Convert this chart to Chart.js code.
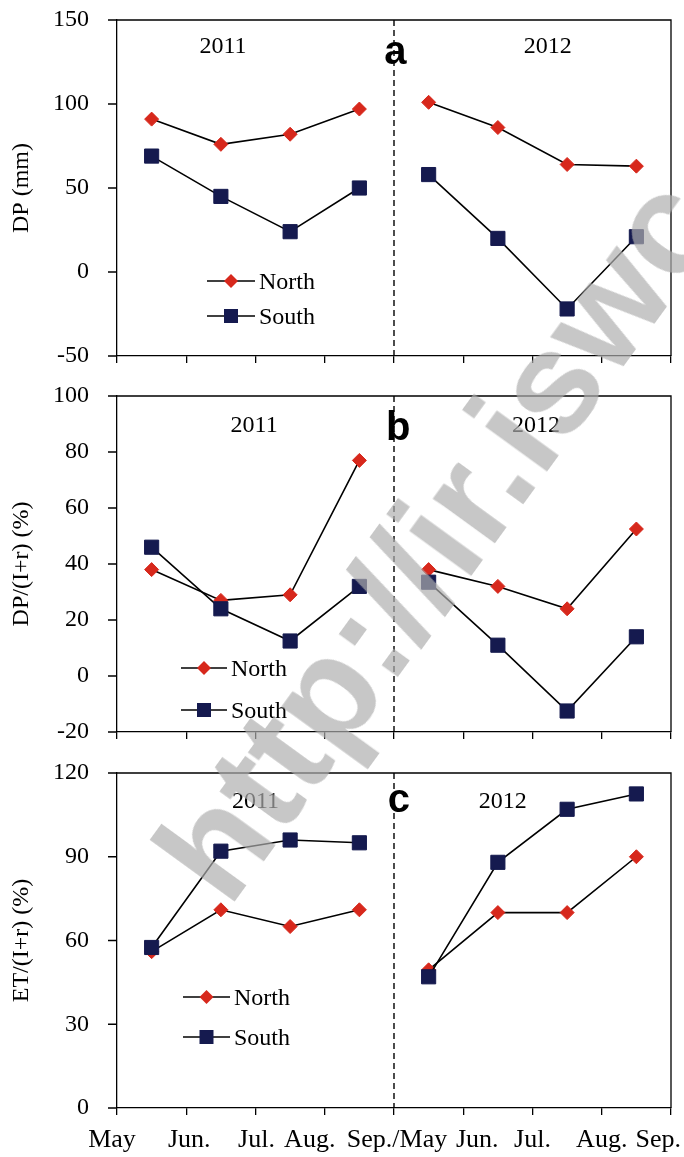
<!DOCTYPE html>
<html>
<head>
<meta charset="utf-8">
<script src="https://cdn.jsdelivr.net/npm/chart.js@4.4.0/dist/chart.umd.min.js"></script>
<style>
  html, body { margin: 0; padding: 0; background: #fff; }
  #wrap { position: relative; width: 684px; height: 1157px; overflow: hidden; background: #fff; }
  .panel { position: absolute; left: 0; }
  .panel canvas { display: block; }
  #mark {
    position: absolute;
    left: 130px;
    top: 838px;
    font: bold 145px "Liberation Sans", Arial, sans-serif;
    line-height: 1;
    white-space: nowrap;
    color: rgba(174, 174, 174, 0.69);
    transform-origin: 0 0;
    transform: rotate(-54deg);
    pointer-events: none;
  }
</style>
</head>
<body>
<div id="wrap">
  <canvas class="panel" id="chartA" width="684" height="380" style="top:0px"></canvas>
  <canvas class="panel" id="chartB" width="684" height="374" style="top:380px"></canvas>
  <canvas class="panel" id="chartC" width="684" height="403" style="top:754px"></canvas>
  <div id="mark">http://ir.iswc.ac.cn</div>
</div>
<script>
// x axis: 0..8 = May 2011 .. Sep 2011 | May 2012 .. Sep 2012, points at mid-month
const monthLabels = ["May", "Jun.", "Jul.", "Aug.", "Sep./May", "Jun.", "Jul.", "Aug.", "Sep."];
const xMid2011 = [0.5, 1.5, 2.5, 3.5];
const xMid2012 = [4.5, 5.5, 6.5, 7.5];

// (a) DP (mm)
const dpNorth2011 = [91, 76, 82, 97];
const dpNorth2012 = [101, 86, 64, 63];
const dpSouth2011 = [69, 45, 24, 50];
const dpSouth2012 = [58, 20, -22, 21];
const dpTicks = [-50, 0, 50, 100, 150];

// (b) DP/(I+r) (%)
const dpiNorth2011 = [38, 27, 29, 77];
const dpiNorth2012 = [38, 32, 24, 52.5];
const dpiSouth2011 = [46, 24, 12.5, 32];
const dpiSouth2012 = [33.5, 11, -12.5, 14];
const dpiTicks = [-20, 0, 20, 40, 60, 80, 100];

// (c) ET/(I+r) (%)
const etNorth2011 = [56, 71, 65, 71];
const etNorth2012 = [49.5, 70, 70, 90];
const etSouth2011 = [57.5, 92, 96, 95];
const etSouth2012 = [47, 88, 107, 112.5];
const etTicks = [0, 30, 60, 90, 120];

const northColor = "#d7281c";
const southColor = "#151a4f";
const serif = "'Liberation Serif', 'Times New Roman', serif";
// small horizontal shifts of the month labels, as in the original figure
const monthNudge = [-5, 3, 1, -15, 3, 14, 0, 0, 0];

function toPoints(a, b) {
    // null at the year boundary breaks the line
    return xMid2011.map((x, i) => ({ x: x, y: a[i] }))
        .concat([{ x: 4, y: null }])
        .concat(xMid2012.map((x, i) => ({ x: x, y: b[i] })));
}

function drawMarker(ctx, style, x, y) {
    ctx.beginPath();
    if (style === "rect") {
        ctx.rect(x - 7, y - 7, 14, 14);
        ctx.fillStyle = southColor;
    } else {
        ctx.moveTo(x - 7, y);
        ctx.lineTo(x, y - 7);
        ctx.lineTo(x + 7, y);
        ctx.lineTo(x, y + 7);
        ctx.closePath();
        ctx.fillStyle = northColor;
    }
    ctx.fill();
}

// frame, y tick marks, divider, year labels, panel letter, legend, month labels
const panelDecor = {
    id: "panelDecor",
    afterDraw(chart, args, opts) {
        const ctx = chart.ctx;
        const ca = chart.chartArea;
        const xs = chart.scales.x;
        const ys = chart.scales.y;
        ctx.save();

        ctx.strokeStyle = "#000";
        ctx.lineWidth = 1.3;
        ctx.beginPath();
        ctx.moveTo(ca.left, ca.top);
        ctx.lineTo(ca.right, ca.top);
        ctx.lineTo(ca.right, ca.bottom);
        // short outward tick marks on the y axis
        ys.ticks.forEach(function (t) {
            const py = ys.getPixelForValue(t.value);
            ctx.moveTo(ca.left - 9, py);
            ctx.lineTo(ca.left, py);
        });
        ctx.stroke();

        const xd = xs.getPixelForValue(4);
        ctx.setLineDash([6, 4]);
        ctx.lineWidth = 1.4;
        ctx.beginPath();
        ctx.moveTo(xd, ca.top);
        ctx.lineTo(xd, ca.bottom);
        ctx.stroke();
        ctx.setLineDash([]);

        ctx.fillStyle = "#000";
        ctx.textAlign = "center";
        ctx.textBaseline = "alphabetic";
        ctx.font = "24px " + serif;
        opts.years.forEach(function (yr) {
            ctx.fillText(yr.text, xs.getPixelForValue(yr.x), ca.top + yr.dy);
        });

        ctx.font = "bold 40px 'Liberation Sans', Arial, sans-serif";
        ctx.fillText(opts.letter.text, xs.getPixelForValue(opts.letter.x), ca.top + opts.letter.dy);

        const lg = opts.legend;
        const names = ["North", "South"];
        const styles = ["rectRot", "rect"];
        ctx.font = "24px " + serif;
        ctx.textAlign = "left";
        for (let i = 0; i < 2; i++) {
            const ly = ca.top + lg.rows[i];
            const lx = ca.left + lg.left;
            ctx.strokeStyle = "#000";
            ctx.lineWidth = 1.6;
            ctx.beginPath();
            ctx.moveTo(lx, ly);
            ctx.lineTo(lx + lg.width, ly);
            ctx.stroke();
            drawMarker(ctx, styles[i], lx + lg.width / 2, ly);
            ctx.fillStyle = "#000";
            ctx.fillText(names[i], lx + lg.width + 4, ly + 8);
        }

        if (opts.months) {
            ctx.font = "26px " + serif;
            ctx.textAlign = "center";
            monthLabels.forEach(function (lab, i) {
                let px = xs.getPixelForValue(i) + monthNudge[i];
                const w = ctx.measureText(lab).width;
                if (px + w / 2 > chart.width - 3) px = chart.width - 3 - w / 2;
                ctx.fillText(lab, px, ca.bottom + 39);
            });
        }
        ctx.restore();
    }
};

function makePanel(id, cfg) {
    return new Chart(document.getElementById(id), {
        type: "line",
        data: {
            datasets: [
                {
                    label: "South",
                    data: toPoints(cfg.south2011, cfg.south2012),
                    order: 0,
                    borderColor: "#000",
                    borderWidth: 1.6,
                    pointStyle: "rect",
                    pointRadius: 10,
                    pointBackgroundColor: southColor,
                    pointBorderColor: southColor,
                    pointBorderWidth: 1,
                    spanGaps: false,
                    tension: 0
                },
                {
                    label: "North",
                    data: toPoints(cfg.north2011, cfg.north2012),
                    order: 1,
                    borderColor: "#000",
                    borderWidth: 1.6,
                    pointStyle: "rectRot",
                    pointRadius: 7,
                    pointBackgroundColor: northColor,
                    pointBorderColor: northColor,
                    pointBorderWidth: 1,
                    spanGaps: false,
                    tension: 0
                }
            ]
        },
        options: {
            responsive: false,
            animation: false,
            events: [],
            layout: { autoPadding: false, padding: { top: cfg.padTop, right: 13, left: 0, bottom: 0 } },
            plugins: {
                legend: { display: false },
                tooltip: { enabled: false },
                panelDecor: cfg.decor
            },
            scales: {
                x: {
                    type: "linear",
                    min: 0,
                    max: 8,
                    afterBuildTicks: s => { s.ticks = monthLabels.map((m, i) => ({ value: i })); },
                    ticks: { display: false },
                    grid: { drawOnChartArea: false, drawTicks: true, tickLength: 7, color: "#000", lineWidth: 1.3 },
                    border: { color: "#000", width: 1.3 },
                    afterFit: s => { s.height = cfg.xHeight; }
                },
                y: {
                    min: cfg.ticks[0],
                    max: cfg.ticks[cfg.ticks.length - 1],
                    afterBuildTicks: s => { s.ticks = cfg.ticks.map(v => ({ value: v })); },
                    ticks: { color: "#000", font: { family: serif, size: 24 }, padding: 0 },
                    // long invisible tick marks keep the labels clear of the axis
                    grid: { drawOnChartArea: false, drawTicks: true, tickLength: 28, tickColor: "rgba(0,0,0,0)", color: "#000", lineWidth: 1.3 },
                    border: { color: "#000", width: 1.3 },
                    title: {
                        display: true,
                        text: cfg.title,
                        color: "#000",
                        font: { family: serif, size: 24 },
                        padding: { top: 7, bottom: 0 }
                    },
                    afterFit: s => { s.width = 117; }
                }
            }
        },
        plugins: [panelDecor]
    });
}

makePanel("chartA", {
    north2011: dpNorth2011, north2012: dpNorth2012,
    south2011: dpSouth2011, south2012: dpSouth2012,
    ticks: dpTicks, title: "DP (mm)", padTop: 20, xHeight: 24,
    decor: {
        years: [{ text: "2011", x: 1.53, dy: 33 }, { text: "2012", x: 6.22, dy: 33 }],
        letter: { text: "a", x: 4.02, dy: 44 },
        legend: { left: 90, width: 48, rows: [261, 296] },
        months: false
    }
});

makePanel("chartB", {
    north2011: dpiNorth2011, north2012: dpiNorth2012,
    south2011: dpiSouth2011, south2012: dpiSouth2012,
    ticks: dpiTicks, title: "DP/(I+r) (%)", padTop: 16, xHeight: 22,
    decor: {
        years: [{ text: "2011", x: 1.98, dy: 36 }, { text: "2012", x: 6.05, dy: 36 }],
        letter: { text: "b", x: 4.06, dy: 44 },
        legend: { left: 64, width: 46, rows: [272, 314] },
        months: false
    }
});

makePanel("chartC", {
    north2011: etNorth2011, north2012: etNorth2012,
    south2011: etSouth2011, south2012: etSouth2012,
    ticks: etTicks, title: "ET/(I+r) (%)", padTop: 19, xHeight: 49,
    decor: {
        years: [{ text: "2011", x: 2.0, dy: 35 }, { text: "2012", x: 5.57, dy: 35 }],
        letter: { text: "c", x: 4.07, dy: 39 },
        legend: { left: 66, width: 47, rows: [224, 264] },
        months: true
    }
});
</script>
</body>
</html>
